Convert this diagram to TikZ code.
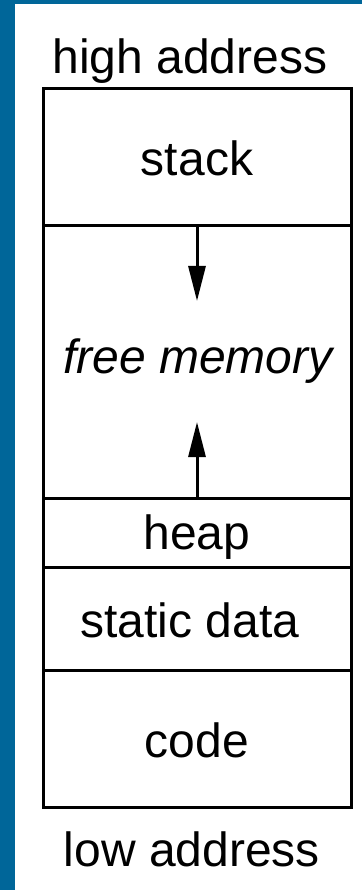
\documentclass[tikz,border=0pt]{standalone}
\usepackage{fontspec}
\setmainfont{Liberation Sans}
\usetikzlibrary{arrows.meta}
\definecolor{frameblue}{RGB}{0,102,153}
\begin{document}
\begin{tikzpicture}[x=1pt,y=-1pt,
  lbl/.style={inner sep=0pt,anchor=base,font=\fontsize{48}{56}\selectfont},
  seg/.style={line width=3pt},
  arr/.style={line width=3pt,-{Triangle[length=35pt,width=17pt]}}]
\useasboundingbox (0,0) rectangle (362,890);
\fill[white] (0,0) rectangle (362,890);
\fill[frameblue] (0,0) rectangle (15,890);
\fill[frameblue] (0,0) rectangle (362,4);
% memory box
\coordinate (tl) at (43,89);
\coordinate (br) at (351,807);
\draw[seg] (tl) rectangle (br);
\coordinate (d1l) at (43,226); \coordinate (d1r) at (351,226);
\coordinate (d2l) at (43,498); \coordinate (d2r) at (351,498);
\coordinate (d3l) at (43,567); \coordinate (d3r) at (351,567);
\coordinate (d4l) at (43,670); \coordinate (d4r) at (351,670);
\draw[seg] (d1l) -- (d1r);
\draw[seg] (d2l) -- (d2r);
\draw[seg] (d3l) -- (d3r);
\draw[seg] (d4l) -- (d4r);
% arrows
\coordinate (a1s) at (197,226); \coordinate (a1e) at (197,301);
\coordinate (a2s) at (197,498); \coordinate (a2e) at (197,422);
\draw[arr] (a1s) -- (a1e);
\draw[arr] (a2s) -- (a2e);
% labels
\node[lbl] (hi) at (190,74) {high address};
\node[lbl] (st) at (197,176) {stack};
\node[lbl] (fm) at (198,373) {\itshape free memory};
\node[lbl] (hp) at (197,549) {heap};
\node[lbl] (sd) at (190,637) {static data};
\node[lbl] (cd) at (197,757) {code};
\node[lbl] (lo) at (192,866) {low address};
\end{tikzpicture}
\end{document}
